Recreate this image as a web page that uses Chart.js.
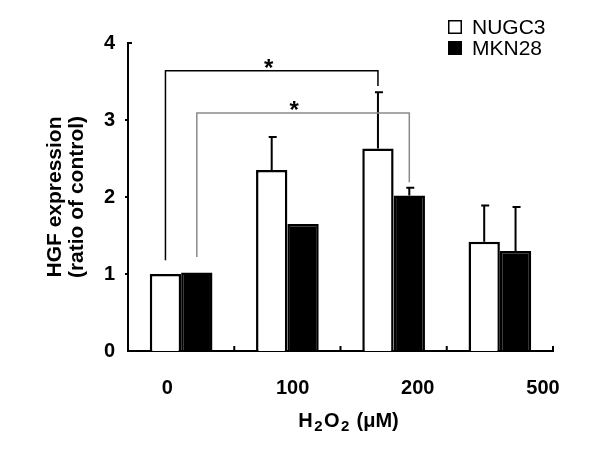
<!DOCTYPE html>
<html><head><meta charset="utf-8">
<script src="https://cdn.jsdelivr.net/npm/chart.js@4"></script>
<style>
html,body{margin:0;padding:0;background:#fff;}
canvas{display:block;}
</style></head>
<body><canvas id="c" width="600" height="465"></canvas>
<script>
// ---- data ----
const categories = ['0', '100', '200', '500'];
const seriesNames = ['NUGC3', 'MKN28'];
const nugc3 = [1.00, 2.35, 2.63, 1.42];
const mkn28 = [1.02, 1.65, 2.02, 1.30];
const nugc3Err = [0, 0.43, 0.73, 0.47];
const mkn28Err = [0, 0, 0.10, 0.57];
const yTicks = [0, 1, 2, 3, 4];
// significance brackets: [dataset, category] start/end, heights in data units
const bracketFrom = [[0, 0], [1, 0]];
const bracketTo = [[0, 2], [1, 2]];
const bracketTop = [3.64, 3.09];
const bracketStartY = [1.18, 1.22];
const bracketEndY = [3.44, 2.19];
const bracketColors = ['#000000', '#8a8a8a'];
const xTitleParts = [['H', 0], ['2', 1], ['O', 0], ['2', 1], [' (μM)', 0]];

const FONT = '"Liberation Sans", Arial, sans-serif';
const fillColors = ['#ffffff', '#000000'];
const errs = [nugc3Err, mkn28Err];
const starDx = [-3, -9];

const extras = {
  id: 'extras',
  afterDatasetsDraw(chart) {
    const ctx = chart.ctx;
    const x = chart.scales.x, y = chart.scales.y;
    ctx.save();
    // error bars (upper)
    errs.forEach((arr, d) => {
      const meta = chart.getDatasetMeta(d);
      arr.forEach((e, i) => {
        if (!e) return;
        const bar = meta.data[i];
        const v = chart.data.datasets[d].data[i];
        const top = y.getPixelForValue(v + e);
        ctx.strokeStyle = '#000';
        ctx.lineWidth = 2;
        ctx.beginPath();
        ctx.moveTo(bar.x, bar.y);
        ctx.lineTo(bar.x, top);
        ctx.moveTo(bar.x - 3, top);
        ctx.lineTo(bar.x + 5, top);
        ctx.stroke();
      });
    });
    // significance brackets
    bracketFrom.forEach((f, k) => {
      const t = bracketTo[k];
      const x1 = chart.getDatasetMeta(f[0]).data[f[1]].x;
      const x2 = chart.getDatasetMeta(t[0]).data[t[1]].x;
      const yT = y.getPixelForValue(bracketTop[k]);
      ctx.strokeStyle = bracketColors[k];
      ctx.lineWidth = 1.5;
      ctx.beginPath();
      ctx.moveTo(x1, y.getPixelForValue(bracketStartY[k]));
      ctx.lineTo(x1, yT);
      ctx.lineTo(x2, yT);
      ctx.lineTo(x2, y.getPixelForValue(bracketEndY[k]));
      ctx.stroke();
      ctx.fillStyle = '#000';
      ctx.font = 'bold 24px ' + FONT;
      ctx.textAlign = 'center';
      ctx.textBaseline = 'alphabetic';
      ctx.fillText('*', (x1 + x2) / 2 + starDx[k], yT - 9 + 14);
    });
    // tick marks
    ctx.strokeStyle = '#000';
    ctx.lineWidth = 2;
    ctx.beginPath();
    for (let i = 0; i < categories.length; i++) {
      const px = i < categories.length - 1 ? (x.getPixelForTick(i) + x.getPixelForTick(i + 1)) / 2 : x.right;
      ctx.moveTo(px, y.bottom);
      ctx.lineTo(px, y.bottom - 5);
    }
    yTicks.forEach(v => {
      if (v === 0) return;
      const py = y.getPixelForValue(v);
      if (v === yTicks[yTicks.length - 1]) { ctx.moveTo(x.left, py); ctx.lineTo(x.left + 4, py); }
      else { ctx.moveTo(x.left, py); ctx.lineTo(x.left - 3, py); }
    });
    ctx.stroke();
    // x-axis title with subscripts
    const mainF = 'bold 20px ' + FONT, subF = 'bold 15px ' + FONT, gap = 1.5;
    let total = 0;
    xTitleParts.forEach(p => { ctx.font = p[1] ? subF : mainF; total += ctx.measureText(p[0]).width + gap; });
    total -= gap;
    let cx = (x.left + x.right) / 2 + 8 - total / 2;
    const base = 427;
    ctx.textAlign = 'left';
    ctx.textBaseline = 'alphabetic';
    ctx.fillStyle = '#000';
    xTitleParts.forEach(p => {
      ctx.font = p[1] ? subF : mainF;
      ctx.fillText(p[0], cx, base + (p[1] ? 4 : 0));
      cx += ctx.measureText(p[0]).width + gap;
    });
    // legend
    seriesNames.forEach((n, i) => {
      const yy = 20 + i * 21;
      ctx.fillStyle = fillColors[i];
      ctx.fillRect(448, yy, 14, 14);
      ctx.strokeStyle = '#000';
      ctx.lineWidth = 1.5;
      ctx.strokeRect(448.75, yy + 0.75, 12.5, 12.5);
      ctx.fillStyle = '#000';
      ctx.font = '21px ' + FONT;
      ctx.textBaseline = 'middle';
      ctx.fillText(n, 472, yy + 8);
    });
    ctx.restore();
  }
};

new Chart(document.getElementById('c'), {
  type: 'bar',
  data: {
    labels: categories,
    datasets: [
      { label: seriesNames[0], data: nugc3, backgroundColor: fillColors[0], borderColor: '#000', borderWidth: 2.5, xAxisID: 'x', yAxisID: 'y' },
      { label: seriesNames[1], data: mkn28, backgroundColor: fillColors[1], borderColor: '#000', borderWidth: 2.5, xAxisID: 'x', yAxisID: 'y' }
    ]
  },
  options: {
    responsive: false,
    animation: false,
    layout: { padding: { top: 43, right: 47, left: 0, bottom: 0 } },
    datasets: { bar: { categoryPercentage: 0.59, barPercentage: 1.0 } },
    plugins: { legend: { display: false }, tooltip: { enabled: false } },
    scales: {
      x: {
        type: 'category',
        position: 'bottom',
        ticks: { display: false },
        grid: { display: false },
        border: { display: true, color: '#000', width: 2 },
        afterFit: s => { s.height = 0; }
      },
      x2: {
        type: 'linear',
        position: 'bottom',
        offset: false,
        min: -0.315, max: 3.08,
        afterBuildTicks: s => { s.ticks = categories.map((_, i) => ({ value: i })); },
        ticks: { callback: v => categories[v], font: { family: FONT, size: 20, weight: 'bold' }, color: '#000', padding: 17, autoSkip: false, maxRotation: 0 },
        grid: { display: false, offset: false },
        border: { display: false },
        title: { display: false },
        afterFit: s => { s.height = 114; }
      },
      y: {
        min: 0, max: 4,
        afterBuildTicks: s => { s.ticks = yTicks.map(v => ({ value: v })); },
        ticks: { font: { family: FONT, size: 20, weight: 'bold' }, color: '#000', padding: 5 },
        grid: { display: false },
        border: { display: true, color: '#000', width: 2 },
        title: { display: true, text: ['HGF expression', '(ratio of control)'], font: { family: FONT, size: 21, weight: 'bold', lineHeight: 1.05 }, color: '#000', padding: { top: 44, bottom: 0 } },
        afterFit: s => { s.width = 128; }
      }
    }
  },
  plugins: [extras]
});
</script>
</body></html>
